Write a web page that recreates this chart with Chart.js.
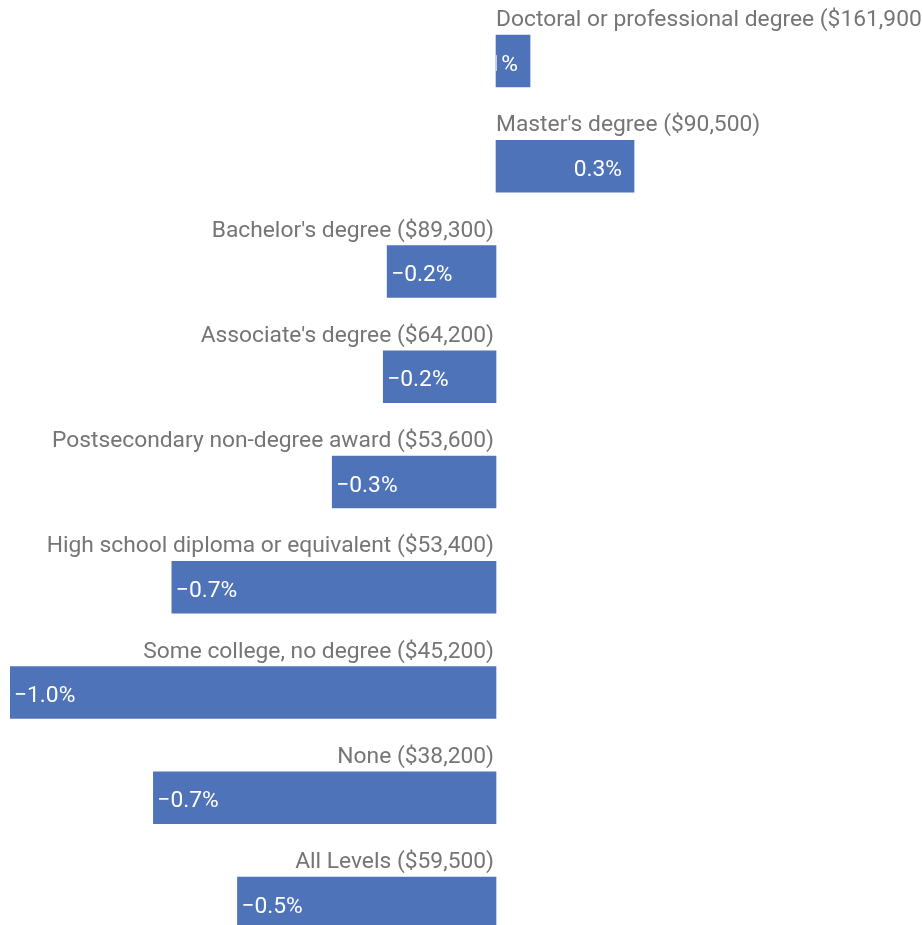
<!DOCTYPE html>
<html>
<head>
<meta charset="utf-8">
<script src="https://cdn.jsdelivr.net/npm/chart.js@4/dist/chart.umd.min.js"></script>
<style>
  html, body { margin: 0; padding: 0; background: #ffffff; overflow: hidden; }
  #wrap { position: relative; width: 922px; height: 960px; }
</style>
</head>
<body>
<div id="wrap"><canvas id="c"></canvas></div>
<script>
const categories = [
  "Doctoral or professional degree ($161,900)",
  "Master's degree ($90,500)",
  "Bachelor's degree ($89,300)",
  "Associate's degree ($64,200)",
  "Postsecondary non-degree award ($53,600)",
  "High school diploma or equivalent ($53,400)",
  "Some college, no degree ($45,200)",
  "None ($38,200)",
  "All Levels ($59,500)"
];
const changePct = [0.07, 0.284, -0.224, -0.232, -0.337, -0.667, -1.0, -0.705, -0.532];

const BAR = '#4e73b8';
const LABEL_COLOR = '#757575';
const FONT = '22.8px Roboto, "Noto Sans", sans-serif';

function fmt(v) {
  const s = Math.abs(v).toFixed(1) + '%';
  return v < 0 ? '\u2212' + s : s;
}

const labelPlugin = {
  id: 'labelPlugin',
  afterDatasetsDraw(chart) {
    const ctx = chart.ctx;
    const meta = chart.getDatasetMeta(0);
    const zero = chart.scales.x.getPixelForValue(0);
    meta.data.forEach((bar, i) => {
      const v = changePct[i];
      const top = bar.y - bar.height / 2;
      const left = Math.min(bar.x, bar.base);
      const right = Math.max(bar.x, bar.base);
      ctx.save();
      ctx.font = FONT;
      ctx.fillStyle = LABEL_COLOR;
      ctx.textBaseline = 'alphabetic';
      if (v >= 0) {
        ctx.textAlign = 'left';
        ctx.fillText(categories[i], zero, top - 9);
      } else {
        ctx.textAlign = 'right';
        ctx.fillText(categories[i], zero - 2, top - 9);
      }
      // value text inside bar, clipped to the bar
      ctx.beginPath();
      ctx.rect(left, top, right - left, bar.height);
      ctx.clip();
      ctx.fillStyle = '#ffffff';
      if (v >= 0) {
        ctx.textAlign = 'right';
        ctx.fillText(fmt(v), right - 12, bar.y + 9.5);
      } else {
        ctx.textAlign = 'left';
        ctx.fillText(fmt(v), left + 4, bar.y + 9.5);
      }
      ctx.restore();
    });
  }
};

new Chart(document.getElementById('c'), {
  type: 'bar',
  data: {
    labels: categories,
    datasets: [{
      data: changePct,
      backgroundColor: BAR,
      borderWidth: 0,
      barThickness: 52
    }]
  },
  options: {
    indexAxis: 'y',
    responsive: true,
    maintainAspectRatio: false,
    animation: false,
    layout: { padding: { left: 10, right: 0, top: 8.4, bottom: 4.35 } },
    scales: {
      x: { display: false, min: -1, max: 0.8765 },
      y: { display: false }
    },
    plugins: {
      legend: { display: false },
      tooltip: { enabled: false }
    }
  },
  plugins: [labelPlugin]
});
</script>
</body>
</html>
